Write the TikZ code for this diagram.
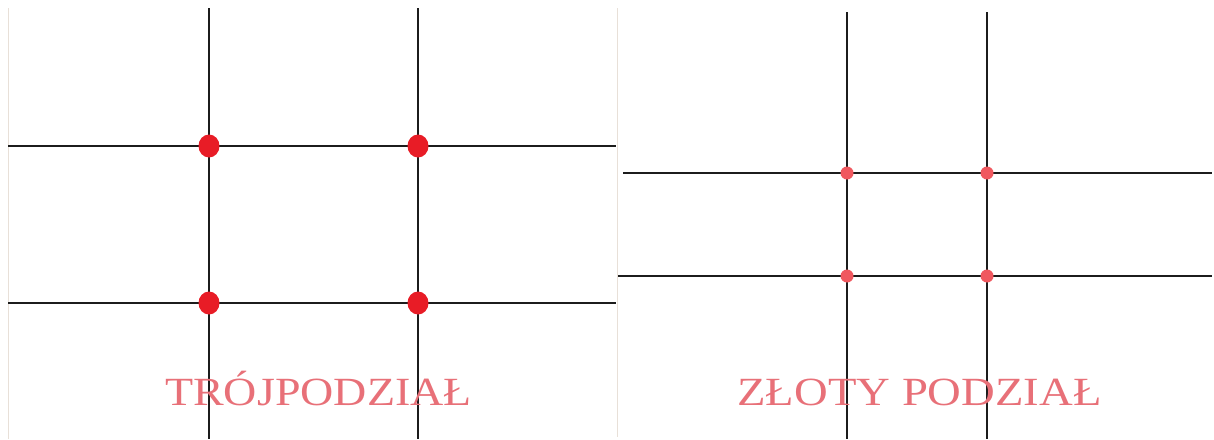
\documentclass[tikz,border=0pt]{standalone}
\usepackage{fontspec}
\setmainfont{Liberation Serif}
\definecolor{gridline}{RGB}{28,28,28}
\definecolor{edgeline}{RGB}{232,224,216}
\definecolor{bigdot}{RGB}{232,28,38}
\definecolor{smalldot}{RGB}{240,88,95}
\definecolor{labelred}{RGB}{232,112,120}
\tikzset{
  gline/.style={draw=gridline, line width=2.8pt},
  eline/.style={draw=edgeline, line width=1pt},
  bigpt/.style={ellipse, fill=bigdot, minimum width=21pt, minimum height=23pt, inner sep=0pt},
  smallpt/.style={circle, fill=smalldot, minimum size=13pt, inner sep=0pt},
  caption/.style={text=labelred, font=\fontsize{40}{40}\selectfont, anchor=base, inner sep=0pt}
}
\usetikzlibrary{shapes.geometric}
\begin{document}
\begin{tikzpicture}[x=1pt,y=-1pt]
\path[use as bounding box, fill=white] (0,0) rectangle (1214,439);
% panel edges
\coordinate (lb1) at (8,8); \coordinate (lb2) at (8,439);
\coordinate (sp1) at (617,8); \coordinate (sp2) at (617,437);
\draw[eline] (lb1) -- (lb2);
\draw[eline] (sp1) -- (sp2);
% left panel grid
\coordinate (lv1t) at (209,8); \coordinate (lv1b) at (209,439);
\coordinate (lv2t) at (418,8); \coordinate (lv2b) at (418,439);
\coordinate (lh1l) at (8,146); \coordinate (lh1r) at (616,146);
\coordinate (lh2l) at (8,303); \coordinate (lh2r) at (616,303);
\draw[gline] (lv1t) -- (lv1b);
\draw[gline] (lv2t) -- (lv2b);
\draw[gline] (lh1l) -- (lh1r);
\draw[gline] (lh2l) -- (lh2r);
% right panel grid
\coordinate (rv1t) at (847,12); \coordinate (rv1b) at (847,439);
\coordinate (rv2t) at (987,12); \coordinate (rv2b) at (987,439);
\coordinate (rh1l) at (623,173); \coordinate (rh1r) at (1212,173);
\coordinate (rh2l) at (618,276); \coordinate (rh2r) at (1212,276);
\draw[gline] (rv1t) -- (rv1b);
\draw[gline] (rv2t) -- (rv2b);
\draw[gline] (rh1l) -- (rh1r);
\draw[gline] (rh2l) -- (rh2r);
% captions
\node[caption, xscale=1.15] (cap1) at (318.5,405) {TRÓJPODZIAŁ};
\node[caption, xscale=1.167] (cap2) at (919.5,405) {ZŁOTY PODZIAŁ};
% dots
\node[bigpt] (d1) at (209,146) {};
\node[bigpt] (d2) at (418,146) {};
\node[bigpt] (d3) at (209,303) {};
\node[bigpt] (d4) at (418,303) {};
\node[smallpt] (s1) at (847,173) {};
\node[smallpt] (s2) at (987,173) {};
\node[smallpt] (s3) at (847,276) {};
\node[smallpt] (s4) at (987,276) {};
\end{tikzpicture}
\end{document}
